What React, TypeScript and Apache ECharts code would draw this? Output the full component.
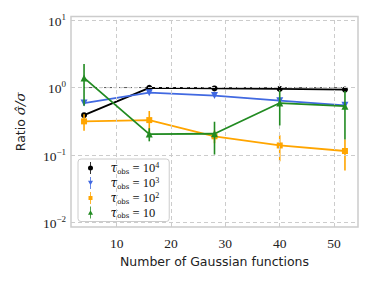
import React, { useEffect, useRef } from "react";
import * as echarts from "echarts";

const xs = [4, 16, 28, 40, 52];
const blackVals = [0.39, 0.99, 0.97, 0.955, 0.934];
const blackErr = [0.015, 0.015, 0.015, 0.015, 0.015];
const blueVals = [0.59, 0.84, 0.76, 0.64, 0.545];
const blueErr = [0.04, 0.04, 0.03, 0.03, 0.03];
const orangeVals = [0.316, 0.33, 0.19, 0.139, 0.115];
const orangeErr = [0.086, 0.12, 0.04, 0.058, 0.056];
const greenVals = [1.39, 0.205, 0.207, 0.59, 0.53];
const greenErr = [0.85, 0.045, 0.105, 0.315, 0.36];
const xTicks = [10, 20, 30, 40, 50];
const yTicks = [0.01, 0.1, 1, 10];
const legendSup = ["4", "3", "2", ""];
const refLine = [1, 1];

const supMap: Record<string, string> = { "-2": "−2", "-1": "−1", "0": "0", "1": "1" };

export default function App() {
  const ref = useRef<HTMLDivElement>(null);
  useEffect(() => {
    const chart = echarts.init(ref.current!, null, { renderer: "svg" });
    const groups = [
      { name: "t4", color: "#000000", vals: blackVals, err: blackErr, symbol: "circle", size: 6, rot: 0, icon: "path://M2.6,0H3.4V12H2.6Z M0.5,6A2.5,2.5,0,1,1,5.5,6A2.5,2.5,0,1,1,0.5,6Z" },
      { name: "t3", color: "#4169e1", vals: blueVals, err: blueErr, symbol: "triangle", size: 7, rot: 180, icon: "path://M2.6,0H3.4V12H2.6Z M0.5,3.8L5.5,3.8L3,8.2Z" },
      { name: "t2", color: "#ffa500", vals: orangeVals, err: orangeErr, symbol: "rect", size: 6, rot: 0, icon: "path://M2.6,0H3.4V12H2.6Z M1,4H5V8H1Z" },
      { name: "t1", color: "#228b22", vals: greenVals, err: greenErr, symbol: "triangle", size: 7, rot: 0, icon: "path://M2.6,0H3.4V12H2.6Z M3,3.8L5.5,8.2L0.5,8.2Z" },
    ];
    const series: any[] = [
      {
        type: "line",
        name: "ref",
        data: [[xs[0], refLine[0]], [xs[xs.length - 1], refLine[1]]],
        symbol: "none",
        lineStyle: { color: "#555", width: 1, type: [3, 2] },
        z: 1,
        silent: true,
        markLine: {
          silent: true,
          symbol: "none",
          label: { show: false },
          lineStyle: { color: "#cccccc", width: 1, type: [4, 3] },
          data: [
            ...xTicks.map((v) => ({ xAxis: v })),
            ...yTicks.map((v) => ({ yAxis: v })),
          ],
        },
      },
    ];
    groups.forEach((g, gi) => {
      series.push({
        type: "custom",
        name: "err" + g.name,
        z: 2 + gi,
        silent: true,
        data: xs.map((x, i) => [x, g.vals[i] - g.err[i], g.vals[i] + g.err[i]]),
        encode: { x: 0, y: [1, 2] },
        renderItem: (params: any, api: any) => {
          const p1 = api.coord([api.value(0), api.value(1)]);
          const p2 = api.coord([api.value(0), api.value(2)]);
          return {
            type: "line",
            shape: { x1: p1[0], y1: p1[1], x2: p2[0], y2: p2[1] },
            style: { stroke: g.color, lineWidth: 1.6 },
          };
        },
      });
      series.push({
        type: "line",
        name: g.name,
        z: 2 + gi,
        data: xs.map((x, i) => [x, g.vals[i]]),
        symbol: g.symbol,
        symbolSize: g.size,
        symbolRotate: g.rot,
        itemStyle: { color: g.color },
        lineStyle: { color: g.color, width: 1.8 },
      });
    });
    const legendText: Record<string, string> = {};
    groups.forEach((g, i) => {
      legendText[g.name] = legendSup[i]
        ? `{t|τ}{s|obs}{e| = 10}{p|${legendSup[i]}}`
        : `{t|τ}{s|obs}{e| = 10}`;
    });
    chart.setOption({
      animation: false,
      grid: {
        left: 71,
        right: 16,
        top: 16.5,
        bottom: 54,
        show: true,
        borderColor: "#cccccc",
        borderWidth: 1.5,
        backgroundColor: "transparent",
      },
      xAxis: {
        type: "value",
        min: 1.6,
        max: 54.4,
        axisLine: { show: false },
        splitLine: { show: false },
        axisTick: { show: true, inside: true, length: 3, customValues: xTicks, lineStyle: { color: "#cccccc" } },
        axisLabel: {
          customValues: xTicks,
          margin: 9,
          color: "#222",
          fontFamily: "Liberation Serif",
          fontSize: 13.5,
        },
        name: "Number of Gaussian functions",
        nameLocation: "middle",
        nameGap: 25,
        nameTextStyle: { fontFamily: "DejaVu Sans", fontSize: 12.5, color: "#222" },
      },
      yAxis: {
        type: "log",
        logBase: 10,
        min: 0.00863,
        max: 11.27,
        axisLine: { show: false },
        splitLine: { show: false },
        axisTick: { show: false },
        axisLabel: {
          customValues: yTicks,
          margin: 5,
          color: "#222",
          fontFamily: "Liberation Serif",
          fontSize: 13.5,
          formatter: (v: number) => {
            const e = String(Math.round(Math.log10(v)));
            return `{b|10}{p|${supMap[e]}}`;
          },
          rich: {
            b: { fontFamily: "Liberation Serif", fontSize: 13.5, color: "#222", lineHeight: 16, verticalAlign: "bottom" },
            p: { fontFamily: "Liberation Serif", fontSize: 9, color: "#222", lineHeight: 16, verticalAlign: "top" },
          },
        },
        name: "{a|Ratio }{m|σ̂/σ}",
        nameLocation: "middle",
        nameGap: 44,
        nameTextStyle: {
          rich: {
            a: { fontFamily: "DejaVu Sans", fontSize: 12.5, color: "#222" },
            m: { fontFamily: "DejaVu Serif", fontStyle: "italic", fontSize: 13.5, color: "#222" },
          },
        },
      },
      legend: {
        orient: "vertical",
        left: 78,
        top: 159,
        itemWidth: 6,
        itemHeight: 12,
        itemGap: 1,
        padding: [2, 10, 2, 10],
        borderColor: "#cccccc",
        borderWidth: 1,
        borderRadius: 3,
        backgroundColor: "rgba(255,255,255,0.85)",
        data: groups.map((g) => ({ name: g.name, icon: g.icon })),
        formatter: (n: string) => legendText[n],
        textStyle: {
          padding: [0, 0, 0, 12],
          rich: {
            t: { fontFamily: "DejaVu Serif", fontStyle: "italic", fontSize: 12, color: "#111", lineHeight: 14, verticalAlign: "middle" },
            s: { fontFamily: "DejaVu Serif", fontSize: 7, color: "#111", lineHeight: 14, verticalAlign: "bottom" },
            e: { fontFamily: "Liberation Serif", fontSize: 12.5, color: "#111", lineHeight: 14, verticalAlign: "middle" },
            p: { fontFamily: "Liberation Serif", fontSize: 8, color: "#111", lineHeight: 14, verticalAlign: "top" },
          },
        },
      },
      series,
    });
    return () => chart.dispose();
  }, []);
  return (
    <div
      ref={ref}
      style={{ position: "fixed", left: 0, top: 0, width: 374, height: 281, background: "#fff" }}
    />
  );
}
